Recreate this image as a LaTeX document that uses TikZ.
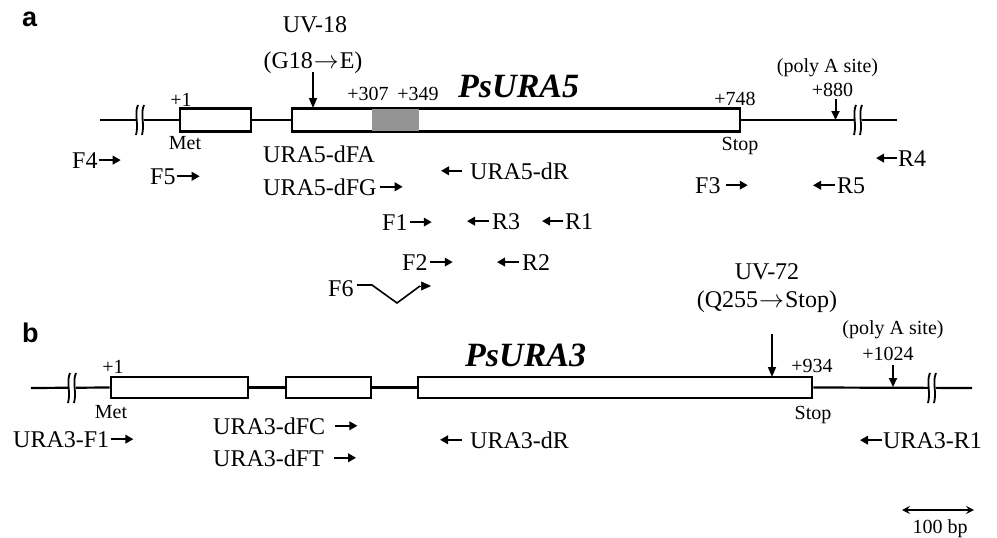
\documentclass[tikz,border=0pt]{standalone}
\usepackage{fontspec}
\setmainfont{Liberation Serif}
\newfontfamily\lsans{Liberation Sans}
\usetikzlibrary{arrows.meta}
\tikzset{
  lbl/.style={font=\fontsize{24}{28}\selectfont, inner sep=0pt, anchor=base},
  lblw/.style={lbl, anchor=base west},
  sml/.style={font=\fontsize{20}{24}\selectfont, inner sep=0pt, anchor=base},
  gene/.style={font=\fontsize{34}{40}\selectfont\bfseries\itshape, inner sep=0pt, anchor=base west},
  panel/.style={font=\fontsize{27}{30}\selectfont\lsans\bfseries, inner sep=0pt, anchor=base west},
  primer/.style={line width=2.4pt, -{Triangle[length=8pt,width=8.5pt]}},
  mut/.style={line width=1.6pt, -{Triangle[length=10pt,width=8pt]}},
  poly/.style={line width=2pt, -{Triangle[length=9pt,width=8pt]}},
  dna/.style={line width=2.2pt},
  exon/.style={draw, line width=2.6pt, fill=white, inner sep=0pt, minimum height=23pt},
  brk/.pic={
    \fill[white] (-2,-4) rectangle (6,4);
    \draw[line width=1.8pt] (0,-15) .. controls (-4,-6) and (1,4) .. (-2,15);
    \draw[line width=1.8pt] (6,-15) .. controls (2,-6) and (7,4) .. (4,15);
  }
}
\newcommand\mutarr{\kern1pt\raisebox{0pt}[0.45em][0pt]{$\rightarrow$}\kern1pt}
\begin{document}
\begin{tikzpicture}[x=1pt,y=-1pt]
\useasboundingbox (0,0) rectangle (997,538);

% ---------------- panel a ----------------
\node[panel] (pa) at (22,27) {a};

\coordinate (aL) at (100,120);
\coordinate (aR) at (897,120);
\node[exon, minimum width=71pt] (a1) at (215.5,120) {};
\node[exon, minimum width=448pt] (a2) at (516,120) {};
\fill[black!42] (372,109.3) rectangle (419,130.7);
\draw[dna] (aL) -- (a1.west);
\draw[dna] (a1.east) -- (a2.west);
\draw[dna] (a2.east) -- (aR);
\pic at (138,120) {brk};
\pic at (856,120) {brk};

\node[lbl] (uv18) at (315,32) {UV-18};
\node[lbl] (g18) at (313,68) {(G18\mutarr E)};
\coordinate (m18t) at (313,72);
\coordinate (m18b) at (313,108);
\draw[mut] (m18t) -- (m18b);

\node[sml] (ap1) at (181,106) {+1};
\node[sml] (amet) at (185,149) {Met};
\node[sml] (a307) at (368,100) {+307};
\node[sml] (a349) at (418,100) {+349};
\node[gene] (g5) at (458,97) {PsURA5};
\node[sml] (a748) at (735,105) {+748};
\node[sml] (astop) at (740,150) {Stop};
\node[sml] (apoly) at (827.5,72) {(poly A site)};
\node[sml] (a880) at (832.5,96) {+880};
\coordinate (p880t) at (835.5,99);
\coordinate (p880b) at (835.5,120);
\draw[poly] (p880t) -- (p880b);

\node[lblw] (F4) at (72,168) {F4};
\draw[primer] ([xshift=1pt]F4.east) -- ([xshift=23pt]F4.east);
\node[lblw] (F5) at (150,184) {F5};
\draw[primer] ([xshift=1pt]F5.east) -- ([xshift=24pt]F5.east);
\node[lblw] (dFA) at (263,162) {URA5-dFA};
\node[lblw] (dFG) at (263,195) {URA5-dFG};
\draw[primer] ([xshift=3pt]dFG.east) -- ([xshift=26pt]dFG.east);
\node[lblw] (dR) at (470,179) {URA5-dR};
\draw[primer] ([xshift=-8pt]dR.west) -- ([xshift=-29pt]dR.west);
\node[lblw] (F3) at (695,193) {F3};
\draw[primer] ([xshift=5pt]F3.east) -- ([xshift=27pt]F3.east);
\node[lblw] (R5) at (837,193) {R5};
\draw[primer] ([xshift=-2pt]R5.west) -- ([xshift=-24pt]R5.west);
\node[lblw] (R4) at (898,166) {R4};
\draw[primer] ([xshift=-1pt]R4.west) -- ([xshift=-22pt]R4.west);
\node[lblw] (F1) at (382,230) {F1};
\draw[primer] ([xshift=2pt]F1.east) -- ([xshift=24pt]F1.east);
\node[lblw] (R3) at (492,229) {R3};
\draw[primer] ([xshift=-3pt]R3.west) -- ([xshift=-25pt]R3.west);
\node[lblw] (R1) at (565,229) {R1};
\draw[primer] ([xshift=-2pt]R1.west) -- ([xshift=-23pt]R1.west);
\node[lblw] (F2) at (402,270) {F2};
\draw[primer] ([xshift=2pt]F2.east) -- ([xshift=25pt]F2.east);
\node[lblw] (R2) at (522,270) {R2};
\draw[primer] ([xshift=-3pt]R2.west) -- ([xshift=-25pt]R2.west);

\node[lblw] (F6) at (328,296) {F6};
\coordinate (f6a) at (357,285);
\coordinate (f6b) at (372,285);
\coordinate (f6c) at (397,303);
\coordinate (f6d) at (420,286);
\coordinate (f6e) at (431,286);
\draw[line width=1.6pt, line join=miter] (f6a) -- (f6b) -- (f6c) -- (f6d);
\draw[line width=0.5pt, -{Triangle[length=10pt,width=9pt]}] (f6d) -- (f6e);

% ---------------- panel b ----------------
\node[panel] (pb) at (22,342) {b};

\coordinate (bL) at (31,388);
\coordinate (bR) at (972,388);
\node[exon, minimum width=137pt, minimum height=21pt] (b1) at (179.5,387.5) {};
\node[exon, minimum width=85pt, minimum height=21pt] (b2) at (328.5,387.5) {};
\node[exon, minimum width=394pt, minimum height=21pt] (b3) at (615,387.5) {};
\draw[dna] (bL) -- (b1.west);
\draw[dna] (b1.east) -- (b2.west);
\draw[dna] (b2.east) -- (b3.west);
\draw[dna] (b3.east) -- (bR);
\pic at (70,388) {brk};
\pic at (930,388) {brk};

\node[lbl] (uv72) at (767,279) {UV-72};
\node[lbl] (q255) at (767,307) {(Q255\mutarr Stop)};
\coordinate (m72t) at (772,334);
\coordinate (m72b) at (772,377);
\draw[mut] (m72t) -- (m72b);

\node[sml] (bp1) at (113,373) {+1};
\node[sml] (bmet) at (111,418) {Met};
\node[gene] (g3) at (465,366) {PsURA3};
\node[sml] (b934) at (812,372) {+934};
\node[sml] (bstop) at (813,419) {Stop};
\node[sml] (bpoly) at (893,334) {(poly A site)};
\node[sml] (b1024) at (888,360) {+1024};
\coordinate (p1024t) at (893,365);
\coordinate (p1024b) at (893,387);
\draw[poly] (p1024t) -- (p1024b);

\node[lblw] (UF1) at (13,447) {URA3-F1};
\draw[primer] ([xshift=2pt]UF1.east) -- ([xshift=24pt]UF1.east);
\node[lblw] (dFC) at (213,434) {URA3-dFC};
\draw[primer] ([xshift=10pt]dFC.east) -- ([xshift=32pt]dFC.east);
\node[lblw] (dFT) at (213,466) {URA3-dFT};
\draw[primer] ([xshift=10pt]dFT.east) -- ([xshift=32pt]dFT.east);
\node[lblw] (bdR) at (470,448) {URA3-dR};
\draw[primer] ([xshift=-8pt]bdR.west) -- ([xshift=-30pt]bdR.west);
\node[lblw] (UR1) at (883,448) {URA3-R1};
\draw[primer] ([xshift=-1pt]UR1.west) -- ([xshift=-23pt]UR1.west);

\coordinate (sbL) at (902,510);
\coordinate (sbR) at (974,510);
\draw[line width=1.8pt, {Stealth[length=8pt,width=8pt,inset=3pt]}-{Stealth[length=8pt,width=8pt,inset=3pt]}] (sbL) -- (sbR);
\node[sml] (sbt) at (940,533) {100 bp};
\end{tikzpicture}
\end{document}
